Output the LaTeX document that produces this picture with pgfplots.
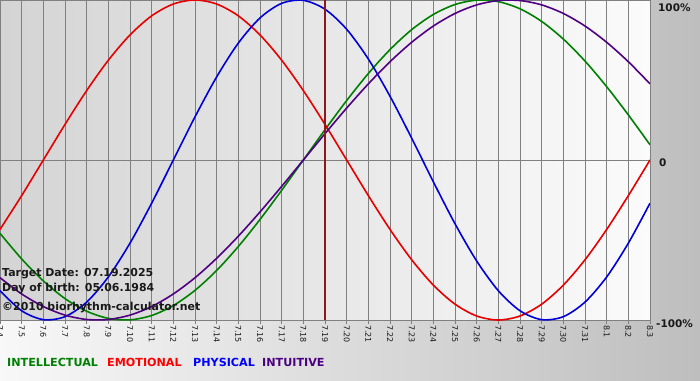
\documentclass[border=0pt]{standalone}
\usepackage{pgfplots}
\pgfplotsset{compat=1.18}
\usepackage{pgfplotstable}
\usepackage{fontspec}
\setmainfont{DejaVu Sans}
\definecolor{outerL}{RGB}{248,248,248}
\definecolor{outerR}{RGB}{190,190,190}
\definecolor{plotL}{RGB}{212,212,212}
\definecolor{plotR}{RGB}{251,251,251}
\definecolor{gridgray}{RGB}{128,128,128}
\definecolor{cInt}{RGB}{0,128,0}
\definecolor{cEmo}{RGB}{230,0,0}
\definecolor{cPhy}{RGB}{0,0,215}
\definecolor{cItu}{RGB}{80,0,130}
\definecolor{cTarget}{RGB}{140,25,25}
\definecolor{lInt}{RGB}{0,128,0}
\definecolor{lEmo}{RGB}{255,0,0}
\definecolor{lPhy}{RGB}{0,0,255}
\definecolor{lItu}{RGB}{75,0,130}
\definecolor{txt}{RGB}{25,25,25}

\pgfplotstableread{
t P E I U
0 -0.8170 -0.4339 -0.4582 -0.7357
1 -0.9423 -0.2225 -0.6182 -0.8372
2 -0.9977 0 -0.7557 -0.9158
3 -0.9791 0.2225 -0.8660 -0.9694
4 -0.8879 0.4339 -0.9450 -0.9966
5 -0.7308 0.6235 -0.9898 -0.9966
6 -0.5196 0.7818 -0.9989 -0.9694
7 -0.2698 0.9010 -0.9718 -0.9158
8 0 0.9749 -0.9096 -0.8372
9 0.2698 1 -0.8146 -0.7357
10 0.5196 0.9749 -0.6901 -0.6142
11 0.7308 0.9010 -0.5406 -0.4759
12 0.8879 0.7818 -0.3717 -0.3247
13 0.9791 0.6235 -0.1893 -0.1646
14 0.9977 0.4339 0 0
15 0.9423 0.2225 0.1893 0.1646
16 0.8170 0 0.3717 0.3247
17 0.6311 -0.2225 0.5406 0.4759
18 0.3984 -0.4339 0.6901 0.6142
19 0.1362 -0.6235 0.8146 0.7357
20 -0.1362 -0.7818 0.9096 0.8372
21 -0.3984 -0.9010 0.9718 0.9158
22 -0.6311 -0.9749 0.9989 0.9694
23 -0.8170 -1 0.9898 0.9966
24 -0.9423 -0.9749 0.9450 0.9966
25 -0.9977 -0.9010 0.8660 0.9694
26 -0.9791 -0.7818 0.7557 0.9158
27 -0.8879 -0.6235 0.6182 0.8372
28 -0.7308 -0.4339 0.4582 0.7357
29 -0.5196 -0.2225 0.2817 0.6142
30 -0.2698 0 0.0951 0.4759
}\bio

\begin{document}
\begin{tikzpicture}[x=1bp,y=1bp]
\useasboundingbox (0,0) rectangle (700,-380);
\shade[left color=outerL, right color=outerR] (0,0) rectangle (700,-380);
\begin{axis}[
  at={(0,0)}, anchor=north west,
  scale only axis, width=650bp, height=320bp,
  xmin=0, xmax=30, ymin=-1, ymax=1,
  axis background/.style={shade, left color=plotL, right color=plotR},
  xtick={0,...,30},
  xticklabels={7.4,7.5,7.6,7.7,7.8,7.9,7.10,7.11,7.12,7.13,7.14,7.15,7.16,7.17,7.18,7.19,7.20,7.21,7.22,7.23,7.24,7.25,7.26,7.27,7.28,7.29,7.30,7.31,8.1,8.2,8.3},
  xticklabel style={rotate=-90, anchor=west, font=\fontsize{8}{9}\selectfont, text=txt, inner sep=1bp},
  ytick={0}, yticklabels={},
  xmajorgrids, ymajorgrids,
  grid style={gridgray, line width=1bp},
  axis line style={gridgray, line width=1bp},
  tick align=outside, major tick length=4bp,
  xtick style={gridgray, line width=1bp},
  ytick style={draw=none},
]
\addplot[cInt, line width=1.6bp, smooth] table[x=t, y=I] {\bio};
\addplot[cEmo, line width=1.6bp, smooth] table[x=t, y=E] {\bio};
\addplot[cPhy, line width=1.6bp, smooth] table[x=t, y=P] {\bio};
\addplot[cItu, line width=1.6bp, smooth] table[x=t, y=U] {\bio};
\addplot[cTarget, line width=2bp] coordinates {(15,-1) (15,1)};
\end{axis}
\begin{scope}[every node/.style={inner sep=0pt, font=\bfseries\fontsize{11}{12}\selectfont, text=txt}]
\node[anchor=base west] at (2,-276) {Target Date: 07.19.2025};
\node[anchor=base west] at (2,-291) {Day of birth: 05.06.1984};
\node[anchor=base west] at (2,-310) {©2010 biorhythm-calculator.net};
\end{scope}
\begin{scope}[every node/.style={inner sep=0pt, font=\bfseries\fontsize{10.5}{12}\selectfont, text=txt}]
\node[anchor=base west] at (658,-11) {100\%};
\node[anchor=base west] at (659,-166) {0};
\node[anchor=base west] at (656,-327) {-100\%};
\end{scope}
\begin{scope}[every node/.style={inner sep=0pt, font=\bfseries\fontsize{11.2}{12}\selectfont}]
\node[anchor=base west, text=lInt] at (7,-366) {INTELLECTUAL};
\node[anchor=base west, text=lEmo] at (107,-366) {EMOTIONAL};
\node[anchor=base west, text=lPhy] at (193,-366) {PHYSICAL};
\node[anchor=base west, text=lItu] at (262,-366) {INTUITIVE};
\end{scope}
\end{tikzpicture}
\end{document}
